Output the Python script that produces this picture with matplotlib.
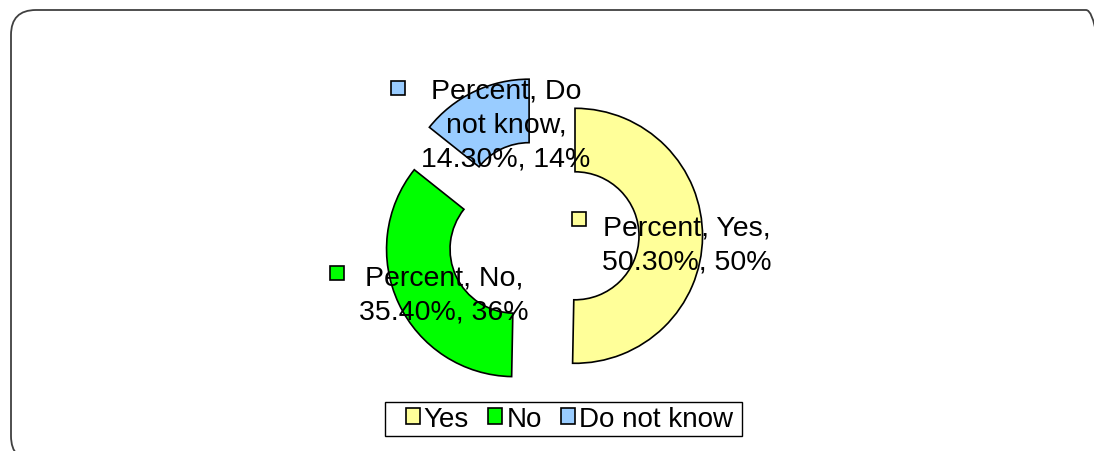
"""Exploded donut chart: share of Yes / No / Do not know answers."""

import matplotlib

matplotlib.use("Agg")
import matplotlib.pyplot as plt
from matplotlib.patches import FancyBboxPatch, Patch, Rectangle
from matplotlib.transforms import IdentityTransform

# data
categories = ["Yes", "No", "Do not know"]
percents = [50.3, 35.4, 14.3]
rounded = [50, 36, 14]
colors = ["#FFFF99", "#00FF00", "#99CCFF"]

# layout, in pixels (y grows downward)
W, H = 1094, 452
CENTER = (543, 236.5)
RADIUS = 127.5
RING = 63.5
EXPLODE = 32  # pie() takes the offset in data units
FONT = "Liberation Sans"
FS = 20.5

# data label anchors: (text centre x, text top y, key square x, key square y)
label_pos = {
    "Yes": (687, 216, 572, 213),
    "No": (444, 266, 330, 267),
    "Do not know": (506, 79, 391, 82),
}
label_text = {
    "Yes": "Percent, Yes,\n{p:.2f}%, {r}%",
    "No": "Percent, No,\n{p:.2f}%, {r}%",
    "Do not know": "Percent, Do\nnot know,\n{p:.2f}%, {r}%",
}


def main() -> None:
    fig = plt.figure(figsize=(W / 100, H / 100), dpi=100)
    ax = fig.add_axes([0, 0, 1, 1])

    # y axis inverted: counterclock in data space reads clockwise on screen
    ax.pie(
        percents,
        colors=colors,
        radius=RADIUS,
        center=CENTER,
        startangle=-90,
        counterclock=True,
        explode=[EXPLODE] * len(percents),
        wedgeprops=dict(width=RING, edgecolor="black", linewidth=1.2),
    )
    ax.set_xlim(0, W)
    ax.set_ylim(H, 0)
    ax.set_aspect("equal")
    ax.axis("off")

    for cat, pct, rnd, col in zip(categories, percents, rounded, colors):
        tx, ty, kx, ky = label_pos[cat]
        ax.add_patch(Rectangle((kx, ky), 14, 14, facecolor=col,
                               edgecolor="black", linewidth=1.2, zorder=5))
        ax.text(tx, ty, label_text[cat].format(p=pct, r=rnd), ha="center",
                va="top", fontsize=FS, family=FONT, linespacing=1.38,
                zorder=6)

    # legend box drawn separately, Excel pads the left side more than the right
    ax.add_patch(Rectangle((385, 403), 357, 34, facecolor="white",
                           edgecolor="black", linewidth=1.0, zorder=4))
    handles = [Patch(facecolor=c, edgecolor="black", linewidth=1.2) for c in colors]
    ax.legend(
        handles, categories, ncol=3, loc="center",
        bbox_to_anchor=(569.5, 420), bbox_transform=ax.transData,
        prop=dict(family=FONT, size=20), frameon=False, borderpad=0,
        handlelength=0.5, handleheight=0.5, handletextpad=0.15,
        columnspacing=0.7, borderaxespad=0,
    ).set_zorder(6)

    frame = FancyBboxPatch(
        (11, -10), 1100, 451, boxstyle="round,pad=0,rounding_size=25",
        facecolor="none", edgecolor="#404040", linewidth=1.3,
        transform=IdentityTransform(),
    )
    fig.add_artist(frame)

    fig.savefig("out.png", dpi=100)
    plt.close(fig)


if __name__ == "__main__":
    main()
